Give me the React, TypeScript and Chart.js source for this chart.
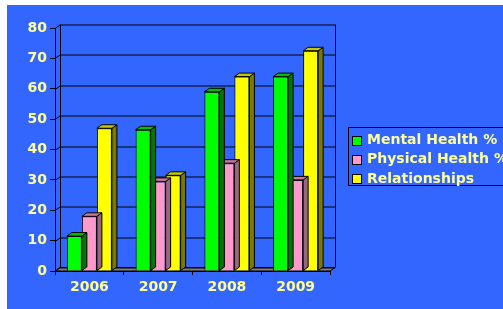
import React, { useEffect, useRef } from "react";
import { Chart, registerables } from "chart.js";

Chart.register(...registerables);

const categories = ["2006", "2007", "2008", "2009"];
const mentalHealth = [11.5, 46.5, 59, 64];
const physicalHealth = [18, 29.5, 35.5, 30];
const relationships = [47, 31.5, 64, 72.5];
const seriesNames = ["Mental Health %", "Physical Health %", "Relationships"];

const FONT = "'DejaVu Sans', Verdana, sans-serif";
const TEXT = "#FFFF99";
const DX = 5;
const DY = 3.5;

const faceColors = [
  { front: "#00FF00", top: "#00C000", side: "#007800" },
  { front: "#FF99CC", top: "#CC7799", side: "#99667F" },
  { front: "#FFFF00", top: "#C8C800", side: "#7A7A00" },
];

const threeD = {
  id: "threeD",
  beforeDatasetsDraw(chart: any) {
    const { ctx, chartArea } = chart;
    const ys = chart.scales.y;
    const { left, right, top, bottom } = chartArea;
    ctx.save();
    ctx.lineWidth = 1;
    ctx.strokeStyle = "#000";
    // floor
    ctx.beginPath();
    ctx.moveTo(left, bottom);
    ctx.lineTo(left + DX, bottom - DY);
    ctx.lineTo(right + DX, bottom - DY);
    ctx.lineTo(right, bottom);
    ctx.closePath();
    ctx.fillStyle = "#808080";
    ctx.fill();
    ctx.stroke();
    // gridlines on back wall
    ys.ticks.forEach((t: any) => {
      const yf = Math.round(ys.getPixelForValue(t.value)) + 0.5;
      ctx.beginPath();
      ctx.moveTo(left, yf);
      ctx.lineTo(left + DX, yf - DY);
      ctx.lineTo(right + DX, yf - DY);
      ctx.stroke();
    });
    const bx = Math.round(left + DX) + 0.5;
    const rx = Math.round(right + DX) + 0.5;
    ctx.beginPath();
    ctx.moveTo(bx, top - DY);
    ctx.lineTo(bx, bottom - DY);
    ctx.moveTo(rx, top - DY);
    ctx.lineTo(rx, bottom - DY);
    ctx.stroke();
    ctx.restore();
  },
  afterDatasetDraw(chart: any, args: any) {
    const { ctx } = chart;
    const meta = chart.getDatasetMeta(args.index);
    const c = faceColors[args.index];
    ctx.save();
    ctx.lineWidth = 1;
    ctx.strokeStyle = "#000";
    meta.data.forEach((el: any) => {
      const x = el.x - el.width / 2;
      const w = el.width;
      const yt = el.y;
      const yb = el.base;
      // side
      ctx.beginPath();
      ctx.moveTo(x + w, yt);
      ctx.lineTo(x + w + DX, yt - DY);
      ctx.lineTo(x + w + DX, yb - DY);
      ctx.lineTo(x + w, yb);
      ctx.closePath();
      ctx.fillStyle = c.side;
      ctx.fill();
      ctx.stroke();
      // top
      ctx.beginPath();
      ctx.moveTo(x, yt);
      ctx.lineTo(x + DX, yt - DY);
      ctx.lineTo(x + w + DX, yt - DY);
      ctx.lineTo(x + w, yt);
      ctx.closePath();
      ctx.fillStyle = c.top;
      ctx.fill();
      ctx.stroke();
    });
    ctx.restore();
  },
};

const legendBox = {
  id: "legendBox",
  afterDraw(chart: any) {
    const { ctx } = chart;
    ctx.save();
    ctx.lineWidth = 1;
    ctx.strokeStyle = "#000";
    ctx.strokeRect(341.5, 122.5, 170, 58);
    ctx.font = `bold 14px ${FONT}`;
    ctx.textBaseline = "middle";
    ctx.textAlign = "left";
    chart.data.datasets.forEach((ds: any, i: number) => {
      const y = 130.5 + i * 19.3;
      ctx.fillStyle = ds.backgroundColor;
      ctx.fillRect(345.5, Math.round(y) + 0.5, 9, 9);
      ctx.strokeStyle = "#000";
      ctx.strokeRect(345.5, Math.round(y) + 0.5, 9, 9);
      ctx.fillStyle = TEXT;
      ctx.fillText(ds.label, 360, y + 5);
    });
    ctx.restore();
  },
};

export default function App() {
  const ref = useRef<HTMLCanvasElement>(null);
  useEffect(() => {
    if (!ref.current) return;
    const data = [mentalHealth, physicalHealth, relationships];
    const chart = new Chart(ref.current, {
      type: "bar",
      data: {
        labels: categories,
        datasets: data.map((d, i) => ({
          label: seriesNames[i],
          data: d,
          backgroundColor: faceColors[i].front,
          borderColor: "#000",
          borderWidth: 1,
          categoryPercentage: 0.655,
          barPercentage: 1,
        })),
      },
      options: {
        responsive: false,
        animation: false,
        layout: { padding: { top: 23, right: 173, left: 0, bottom: 0 } },
        plugins: { legend: { display: false }, tooltip: { enabled: false } },
        scales: {
          x: {
            offset: true,
            grid: { offset: true, drawOnChartArea: false, tickLength: 4, color: "#000" },
            border: { color: "#000" },
            ticks: { color: TEXT, font: { family: FONT, size: 14, weight: "bold" }, padding: 4 },
            afterFit: (s: any) => { s.height = 38; },
          },
          y: {
            min: 0,
            max: 80,
            ticks: { stepSize: 10, color: TEXT, font: { family: FONT, size: 14, weight: "bold" }, padding: 3 },
            grid: { drawOnChartArea: false, tickLength: 5, color: "#000" },
            border: { color: "#000" },
            afterFit: (s: any) => { s.width = 48; },
          },
        },
      },
      plugins: [threeD, legendBox],
    });
    return () => chart.destroy();
  }, []);
  return (
    <div style={{ position: "absolute", left: 7, top: 5, width: 496, height: 304, background: "#3366FF", overflow: "hidden" }}>
      <canvas ref={ref} width={496} height={304} style={{ display: "block" }} />
    </div>
  );
}
